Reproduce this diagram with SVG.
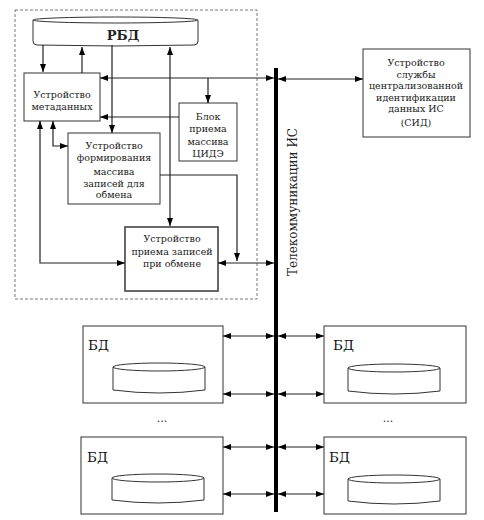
<svg xmlns="http://www.w3.org/2000/svg" width="484" height="520" viewBox="0 0 484 520">
<defs>
<marker id="ah" markerUnits="userSpaceOnUse" markerWidth="8" markerHeight="6" refX="8" refY="3" orient="auto-start-reverse">
<path d="M0,0 L8,3 L0,6 z" fill="#000"/>
</marker>
<style>
text{font-family:'DejaVu Serif','Liberation Serif',serif}
.box{fill:#fff;stroke:#333;stroke-width:1}
.t{font-size:9.5px;fill:#222;text-anchor:middle}
.c{fill:none;stroke:#222;stroke-width:1.2}
.b{marker-start:url(#ah);marker-end:url(#ah)}
.e{marker-end:url(#ah)}
.cyl{fill:#fff;stroke:#333;stroke-width:1}
.bd{font-size:13.5px;fill:#111}
</style>
</defs>
<rect width="484" height="520" fill="#fff"/>
<rect x="15" y="10" width="242" height="289" fill="none" stroke="#555" stroke-width="0.8" stroke-dasharray="3,2"/>
<g id="rbd">
<path class="cyl" d="M33,20 L33,41 Q33,45 37,45 Q115,47 194,45 Q198,45 198,41 L198,20"/>
<ellipse class="cyl" cx="115.5" cy="20" rx="82.5" ry="3"/>
<text x="123" y="40" class="t" style="font-size:13px;font-weight:bold">РБД</text>
</g>
<g id="meta">
<rect class="box" x="24" y="73" width="76" height="48"/>
<text class="t" x="62" y="98">Устройство</text>
<text class="t" x="62" y="110">метаданных</text>
</g>
<g id="form">
<rect class="box" x="68" y="133" width="92" height="71"/>
<text class="t" x="114" y="149">Устройство</text>
<text class="t" x="114" y="161">формирования</text>
<text class="t" x="114" y="175">массива</text>
<text class="t" x="114" y="187">записей для</text>
<text class="t" x="114" y="198">обмена</text>
</g>
<g id="blok">
<rect class="box" x="179" y="103" width="58" height="58"/>
<text class="t" x="208" y="120">Блок</text>
<text class="t" x="208" y="132">приема</text>
<text class="t" x="208" y="145">массива</text>
<text class="t" x="208" y="157">ЦИДЭ</text>
</g>
<g id="priem">
<rect class="box" x="125" y="227" width="93" height="64" style="stroke:#444;stroke-width:1.6"/>
<text class="t" x="172" y="242">Устройство</text>
<text class="t" x="172" y="255">приема записей</text>
<text class="t" x="172" y="267">при обмене</text>
</g>
<g id="sid">
<rect class="box" x="363" y="49" width="107" height="88"/>
<text class="t" x="416" y="66">Устройство</text>
<text class="t" x="416" y="78">службы</text>
<text class="t" x="416" y="89">централизованной</text>
<text class="t" x="416" y="101">идентификации</text>
<text class="t" x="416" y="112">данных ИС</text>
<text class="t" x="416" y="126">(СИД)</text>
</g>
<g id="bus">
<line x1="276" y1="68" x2="276" y2="512" stroke="#000" stroke-width="4"/>
<text x="293" y="206" class="t" style="font-size:12px" transform="rotate(-90 293 202)">Телекоммуникации ИС</text>
</g>
<g id="bd1">
<rect class="box" x="83" y="326" width="140" height="77"/>
<text class="bd" x="88" y="350">БД</text>
<path class="cyl" d="M113,367 L113,390 Q159,396 205,390 L205,367"/>
<ellipse class="cyl" cx="159" cy="367" rx="46" ry="4"/>
</g>
<g id="bd2">
<rect class="box" x="324" y="326" width="142" height="77"/>
<text class="bd" x="333" y="350">БД</text>
<path class="cyl" d="M348,368 L348,391 Q394,397 440,391 L440,368"/>
<ellipse class="cyl" cx="394" cy="368" rx="46" ry="4"/>
</g>
<g id="bd3">
<rect class="box" x="81" y="437" width="142" height="77"/>
<text class="bd" x="87" y="462">БД</text>
<path class="cyl" d="M112,478 L112,500 Q158,506 204,500 L204,478"/>
<ellipse class="cyl" cx="158" cy="478" rx="46" ry="4"/>
</g>
<g id="bd4">
<rect class="box" x="324" y="437" width="142" height="77"/>
<text class="bd" x="329" y="462">БД</text>
<path class="cyl" d="M348,479 L348,501 Q394,507 440,501 L440,479"/>
<ellipse class="cyl" cx="394" cy="479" rx="46" ry="4"/>
</g>
<text class="t" x="162" y="422" style="font-size:11px">...</text>
<text class="t" x="388" y="422" style="font-size:11px">...</text>
<g id="connectors">
<line class="c e" x1="43" y1="45" x2="43" y2="72"/>
<line class="c e" x1="82" y1="73" x2="82" y2="47"/>
<line class="c e" x1="112" y1="45" x2="112" y2="133"/>
<line class="c b" x1="170" y1="47" x2="170" y2="226"/>
<line class="c b" x1="100" y1="78" x2="274" y2="78"/>
<line class="c b" x1="278" y1="79" x2="363" y2="79"/>
<line class="c e" x1="208" y1="78" x2="208" y2="103"/>
<line class="c e" x1="179" y1="117" x2="100" y2="117"/>
<path class="c b" d="M40,121 V263 H125"/>
<path class="c b" d="M53,121 V146 H68"/>
<path class="c e" d="M160,175 H237 V261"/>
<line class="c b" x1="218" y1="263" x2="274" y2="263"/>
<line class="c b" x1="223" y1="336" x2="274" y2="336"/>
<line class="c b" x1="278" y1="336" x2="324" y2="336"/>
<line class="c b" x1="223" y1="394" x2="274" y2="394"/>
<line class="c b" x1="278" y1="394" x2="324" y2="394"/>
<line class="c b" x1="223" y1="447" x2="274" y2="447"/>
<line class="c b" x1="278" y1="447" x2="324" y2="447"/>
<line class="c b" x1="223" y1="494" x2="274" y2="494"/>
<line class="c b" x1="278" y1="494" x2="324" y2="494"/>
</g>
</svg>
